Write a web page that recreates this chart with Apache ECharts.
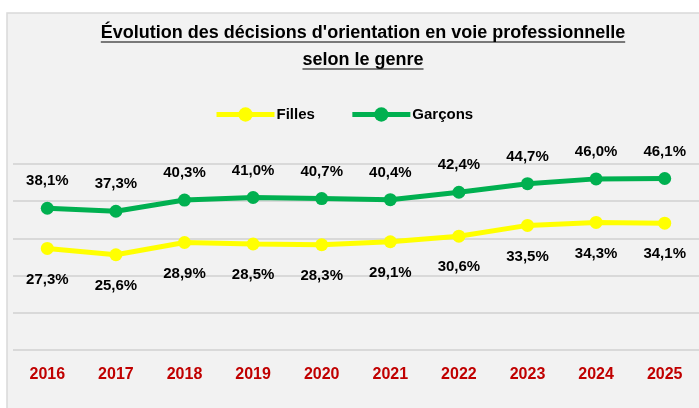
<!DOCTYPE html>
<html>
<head>
<meta charset="utf-8">
<script src="https://cdn.jsdelivr.net/npm/echarts@6/dist/echarts.min.js"></script>
<style>
  html, body { margin: 0; padding: 0; background: #fff; }
  #chart { width: 699px; height: 408px; }
</style>
</head>
<body>
<div id="chart"></div>
<script>
// données
var annees = ['2016', '2017', '2018', '2019', '2020', '2021', '2022', '2023', '2024', '2025']
var filles = [27.3, 25.6, 28.9, 28.5, 28.3, 29.1, 30.6, 33.5, 34.3, 34.1]
var garcons = [38.1, 37.3, 40.3, 41.0, 40.7, 40.4, 42.4, 44.7, 46.0, 46.1]
var titre1 = "Évolution des décisions d'orientation en voie professionnelle"
var titre2 = 'selon le genre'

var police = "'Liberation Sans', Arial, sans-serif"
var policeTitre = 'bold 18px ' + police

// largeur du titre pour le soulignement
var ctx = document.createElement('canvas').getContext('2d')
ctx.font = policeTitre
var w1 = ctx.measureText(titre1).width
var w2 = ctx.measureText(titre2).width
var cx = 363

function etiquette (v) {
    return v.toFixed(1).replace('.', ',') + '%'
}

var chart = echarts.init(document.getElementById('chart'))
var option = {
    backgroundColor: '#fff',
    animation: false,
    graphic: [
        {type: 'rect', z: -100, silent: true,
            shape: {x: 7, y: 13, width: 720, height: 420},
            style: {fill: '#f2f2f2', stroke: '#d9d9d9', lineWidth: 1.5}},
        {type: 'text', z: 10, x: cx, y: 33,
            style: {text: titre1, font: policeTitre, fill: '#000', textAlign: 'center', textVerticalAlign: 'middle', align: 'center', verticalAlign: 'middle'}},
        {type: 'text', z: 10, x: cx, y: 60,
            style: {text: titre2, font: policeTitre, fill: '#000', textAlign: 'center', textVerticalAlign: 'middle', align: 'center', verticalAlign: 'middle'}},
        {type: 'line', z: 10, shape: {x1: cx - w1 / 2, y1: 42, x2: cx + w1 / 2, y2: 42},
            style: {stroke: '#000', lineWidth: 1.2}},
        {type: 'line', z: 10, shape: {x1: cx - w2 / 2, y1: 69, x2: cx + w2 / 2, y2: 69},
            style: {stroke: '#000', lineWidth: 1.2}}
    ],
    legend: {
        left: 209,
        top: 102,
        itemWidth: 58,
        itemHeight: 18,
        itemGap: 35,
        lineStyle: {width: 5},
        textStyle: {fontFamily: police, fontWeight: 'bold', fontSize: 15, color: '#000', padding: [0, 0, 0, -3]},
        data: ['Filles', 'Garçons']
    },
    grid: {left: 13, top: 164, width: 688, height: 186},
    xAxis: {
        type: 'category',
        data: annees,
        axisLine: {show: false},
        axisTick: {show: false},
        axisLabel: {color: '#c00000', fontFamily: police, fontWeight: 'bold', fontSize: 16, margin: 17}
    },
    yAxis: {
        type: 'value',
        min: 0,
        max: 50,
        interval: 10,
        axisLabel: {show: false},
        axisLine: {show: false},
        axisTick: {show: false},
        splitLine: {lineStyle: {color: '#d9d9d9', width: 2}}
    },
    series: [
        {
            name: 'Filles',
            type: 'line',
            data: filles,
            symbol: 'circle',
            symbolSize: 13,
            lineStyle: {color: '#ffff00', width: 5},
            itemStyle: {color: '#ffff00'},
            label: {show: true, position: 'bottom', distance: 17, formatter: function (p) { return etiquette(p.value) },
                fontFamily: police, fontWeight: 'bold', fontSize: 15, color: '#000'}
        },
        {
            name: 'Garçons',
            type: 'line',
            data: garcons,
            symbol: 'circle',
            symbolSize: 13,
            lineStyle: {color: '#00b050', width: 5},
            itemStyle: {color: '#00b050'},
            label: {show: true, position: 'top', distance: 13, formatter: function (p) { return etiquette(p.value) },
                fontFamily: police, fontWeight: 'bold', fontSize: 15, color: '#000'}
        }
    ]
}
chart.setOption(option)
</script>
</body>
</html>
